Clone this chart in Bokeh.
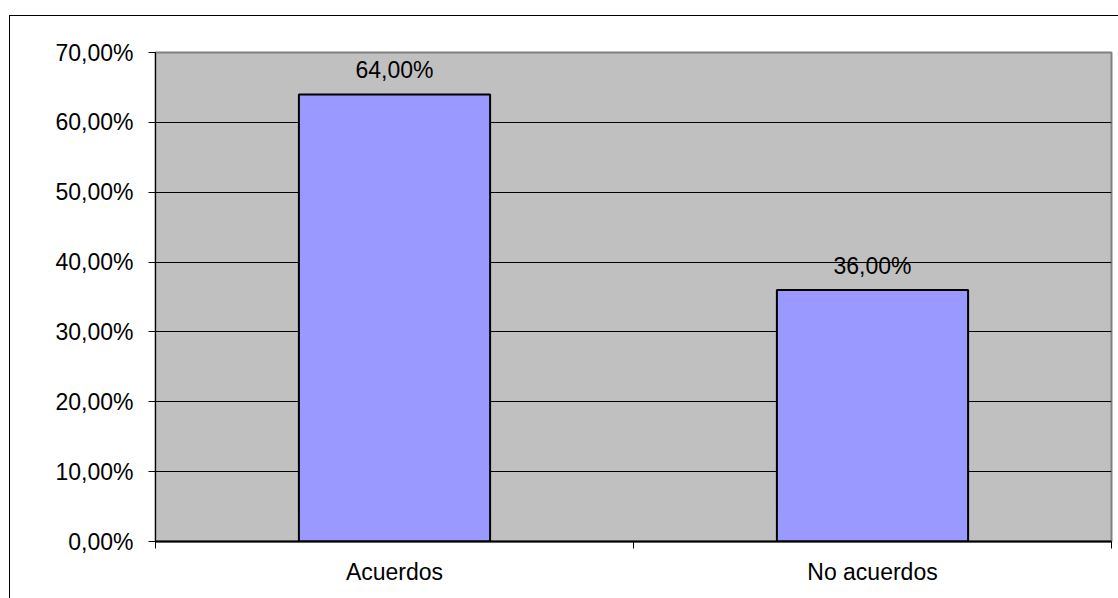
from bokeh.plotting import figure
from bokeh.models import FixedTicker, LabelSet, ColumnDataSource, Range1d
from bokeh.core.properties import value
from bokeh.embed import file_html
from bokeh.resources import INLINE

categories = ["Acuerdos", "No acuerdos"]
values = [64.0, 36.0]
value_labels = ["64,00%", "36,00%"]
y_ticks = [0, 10, 20, 30, 40, 50, 60, 70]
y_tick_labels = ["0,00%", "10,00%", "20,00%", "30,00%", "40,00%", "50,00%", "60,00%", "70,00%"]

FONT = "Liberation Sans"
FS = "23px"

xs = [i + 0.5 for i in range(len(categories))]
src = ColumnDataSource(dict(x=xs, top=values, lab=value_labels))

p = figure(width=1118, height=598, output_backend="svg", toolbar_location=None,
           x_range=Range1d(0, len(categories)), y_range=Range1d(0, 70))
p.min_border_left = 155
p.min_border_top = 52
p.min_border_right = 7
p.min_border_bottom = 57
p.background_fill_color = "#C0C0C0"
p.border_fill_color = "white"
p.border_fill_alpha = 0
p.outline_line_color = "#808080"
p.outline_line_width = 2
p.styles = {
    "background-color": "white",
    "background-image": "linear-gradient(black, black), linear-gradient(black, black)",
    "background-size": "100% 1px, 1px 100%",
    "background-position": "9px 15px, 9px 15px",
    "background-repeat": "no-repeat",
}

p.vbar(x="x", top="top", width=0.4, bottom=0, source=src,
       fill_color="#9999FF", line_color="black", line_width=2)

labels = LabelSet(x="x", y="top", text="lab", source=src, text_align="center",
                  text_baseline="alphabetic", y_offset=16,
                  text_font=value(FONT), text_font_size=value(FS), text_color="black")
p.add_layout(labels)

# y axis
p.yaxis.ticker = FixedTicker(ticks=y_ticks)
p.yaxis.major_label_overrides = {t: l for t, l in zip(y_ticks, y_tick_labels)}
p.yaxis.major_tick_out = 7
p.yaxis.major_tick_in = 0
p.yaxis.minor_tick_out = 0
p.yaxis.minor_tick_in = 0
p.yaxis.axis_line_color = "black"
p.yaxis.major_tick_line_color = "black"
p.yaxis.major_label_standoff = 15
p.yaxis.major_label_text_font = FONT
p.yaxis.major_label_text_font_size = FS
p.yaxis.major_label_text_color = "black"

# x axis
p.xaxis.ticker = FixedTicker(ticks=xs, minor_ticks=list(range(len(categories) + 1)))
p.xaxis.major_label_overrides = {x: c for x, c in zip(xs, categories)}
p.xaxis.major_tick_out = 0
p.xaxis.major_tick_in = 0
p.xaxis.minor_tick_out = 7
p.xaxis.minor_tick_in = 0
p.xaxis.minor_tick_line_color = "black"
p.xaxis.axis_line_color = "black"
p.xaxis.axis_line_width = 2
p.xaxis.major_label_standoff = 10
p.xaxis.major_label_text_font = FONT
p.xaxis.major_label_text_font_size = FS
p.xaxis.major_label_text_color = "black"

p.xgrid.grid_line_color = None
p.ygrid.grid_line_color = "black"
p.ygrid.grid_line_width = 1

open("out.html", "w").write(file_html(p, INLINE))
